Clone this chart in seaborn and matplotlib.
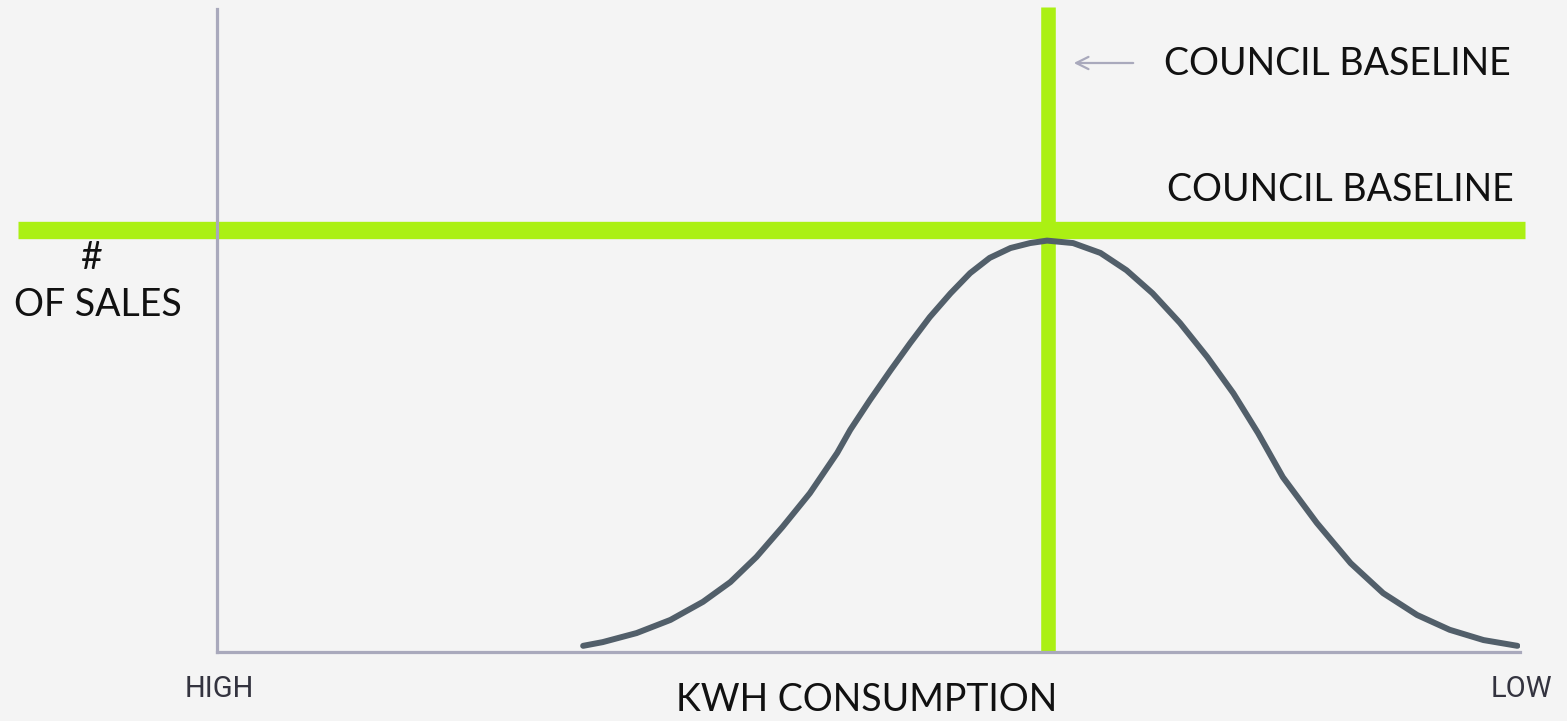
import pandas as pd
import seaborn as sns
import matplotlib.pyplot as plt
from matplotlib.patches import FancyArrowPatch

# curve: kWh consumption (0 = high, 100 = low) vs # of sales (peak = 100)
kwh = [28.1, 29.6, 32.2, 34.8, 37.3, 39.4, 41.4, 43.4, 45.5, 47.6, 48.6, 50.1, 51.7,
       53.2, 54.7, 56.3, 57.8, 59.3, 60.9, 62.4, 63.7, 65.7, 67.8, 69.8, 71.8, 73.9,
       76.0, 78.0, 79.9, 81.8, 84.4, 87.0, 89.5, 92.1, 94.6, 97.2, 99.8]
sales = [1.5, 2.4, 4.6, 7.8, 12.2, 17.0, 23.1, 30.4, 38.6, 48.4, 54.0, 61.2, 68.5,
         75.1, 81.4, 87.2, 92.1, 95.8, 98.2, 99.4, 100.0, 99.4, 97.0, 92.8, 87.2, 80.0,
         71.7, 62.9, 53.2, 42.5, 31.4, 21.6, 14.3, 9.0, 5.4, 2.9, 1.5]

# council baselines
baseline_kwh = 63.8
baseline_sales = 102.7

baseline_label = 'COUNCIL BASELINE'
x_label = 'KWH CONSUMPTION'
y_label_top = '#'
y_label_bottom = 'OF SALES'
x_low_high = ['HIGH', 'LOW']

df = pd.DataFrame({'kwh': kwh, 'sales': sales})

sns.set_theme(style='white')
plt.rcParams['font.family'] = ['Lato', 'DejaVu Sans']

W, H = 1567, 721
fig = plt.figure(figsize=(W / 100, H / 100), dpi=100)
fig.patch.set_facecolor('#f4f4f4')

# axes box: left spine at x=217px, bottom spine at y=652px
ax = fig.add_axes([217 / W, (H - 652) / H, 1303 / W, 643 / H])
ax.set_facecolor('none')
ax.set_xlim(0, 100)
ax.set_ylim(0, 156.3)

axis_color = '#a9a9bc'
green = '#abf013'
for side in ['top', 'right']:
    ax.spines[side].set_visible(False)
for side in ['left', 'bottom']:
    ax.spines[side].set_color(axis_color)
    ax.spines[side].set_linewidth(2.3)
ax.set_xticks([])
ax.set_yticks([])
ax.set_xlabel('')
ax.set_ylabel('')

# baselines
ax.plot([-15.3, 100.4], [baseline_sales, baseline_sales], color=green, lw=12.5,
        solid_capstyle='butt', clip_on=False, zorder=2)
ax.plot([baseline_kwh, baseline_kwh], [0, 156.7], color=green, lw=10.5,
        solid_capstyle='butt', clip_on=False, zorder=2)

# distribution curve
sns.lineplot(data=df, x='kwh', y='sales', ax=ax, color='#525f6a', lw=4.3,
             sort=False, legend=False, zorder=3)
line = ax.get_lines()[-1]
line.set_solid_capstyle('round')
line.set_solid_joinstyle('round')

# texts
def px(x, y):
    return x / W, 1 - y / H

txt = dict(fontsize=27, ha='center', va='center', color='#111111')
fig.text(*px(1337, 64), baseline_label, **txt)
fig.text(*px(1340, 190), baseline_label, **txt)
fig.text(*px(92, 258), y_label_top, **txt)
fig.text(*px(98, 305), y_label_bottom, **txt)
fig.text(*px(867, 700), x_label, **txt)

side = dict(fontsize=21, ha='center', va='center', color='#33333f',
            family=['Roboto', 'DejaVu Sans'])
fig.text(*px(219, 689), x_low_high[0], **side)
fig.text(*px(1521, 689), x_low_high[1], **side)

# arrow pointing at the vertical baseline
fig.patches.append(FancyArrowPatch(
    px(1136, 63), px(1071, 63), transform=fig.transFigure, arrowstyle='->',
    mutation_scale=22, lw=1.6, color=axis_color))

plt.savefig('out.png', dpi=100, facecolor=fig.get_facecolor())
